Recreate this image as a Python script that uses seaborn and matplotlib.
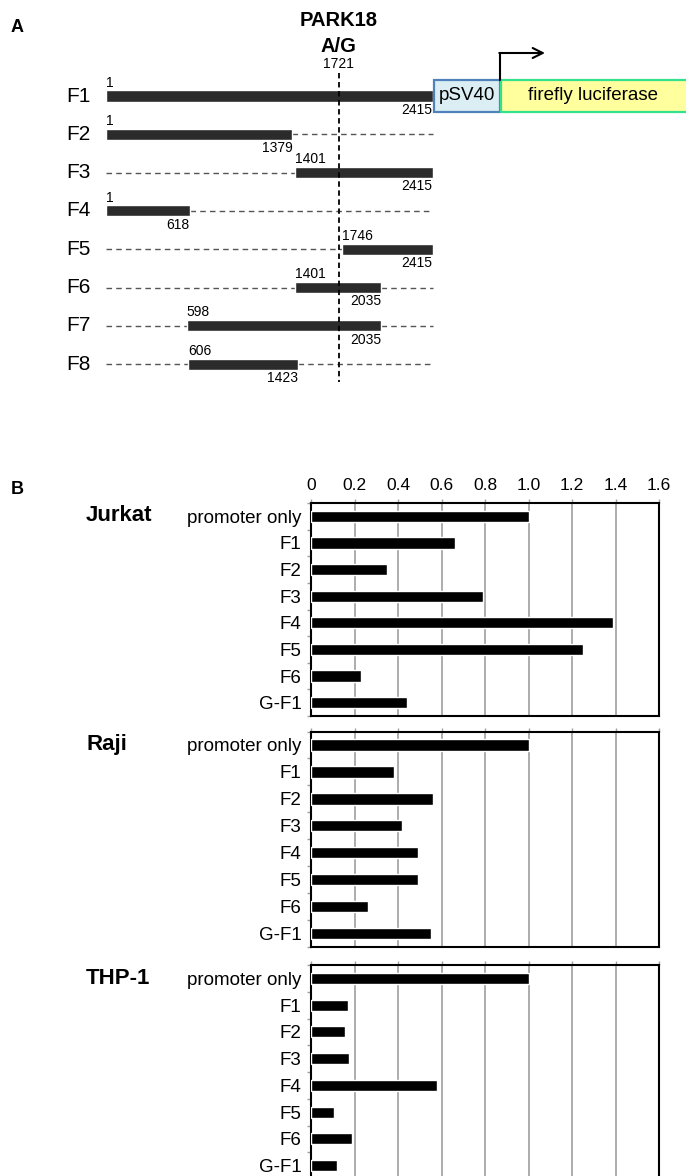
import matplotlib
matplotlib.use('Agg')
import matplotlib.pyplot as plt
import seaborn as sns
import pandas as pd
from matplotlib.patches import Rectangle
from matplotlib.ticker import FixedLocator

# ---------------- data ----------------
fragments = ['F1', 'F2', 'F3', 'F4', 'F5', 'F6', 'F7', 'F8']
frag_start = [1, 1, 1401, 1, 1746, 1401, 598, 606]
frag_end = [2415, 1379, 2415, 618, 2415, 2035, 2035, 1423]
snp_pos = 1721
full_len = 2415

constructs = ['promoter only', 'F1', 'F2', 'F3', 'F4', 'F5', 'F6', 'G-F1']
jurkat = [1.0, 0.66, 0.35, 0.79, 1.39, 1.25, 0.23, 0.44]
raji = [1.0, 0.38, 0.56, 0.42, 0.49, 0.49, 0.26, 0.55]
thp1 = [1.0, 0.17, 0.155, 0.175, 0.58, 0.105, 0.19, 0.12]
cell_lines = ['Jurkat', 'Raji', 'THP-1']
x_ticks = [0, 0.2, 0.4, 0.6, 0.8, 1.0, 1.2, 1.4, 1.6]
x_tick_labels = ['0', '0.2', '0.4', '0.6', '0.8', '1.0', '1.2', '1.4', '1.6']

sns.set_theme(style='white')
plt.rcParams['font.family'] = ['Liberation Sans', 'DejaVu Sans']
plt.rcParams['text.color'] = 'black'
plt.rcParams['xtick.labelcolor'] = 'black'
plt.rcParams['ytick.labelcolor'] = 'black'

W, H = 686, 1176
fig = plt.figure(figsize=(W / 100, H / 100), dpi=100)


def fx(px):
    return px / W


def fy(py):
    return 1 - py / H


# ---------------- Panel A ----------------
A_h = 440
axA = fig.add_axes([0, fy(A_h), 1, A_h / H])
ppu = (432.7 - 106) / (full_len - 1)


def dx(px):
    return 1 + (px - 106) / ppu


row_px0, row_sp = 96, 38.3


def dy(py):
    return (py - row_px0) / row_sp


axA.set_xlim(dx(0), dx(W))
axA.set_ylim(dy(A_h), dy(0))
axA.axis('off')

rows = list(range(len(fragments)))
bar_h = 0.29
widths = [e - s for s, e in zip(frag_start, frag_end)]
axA.barh(rows, widths, left=frag_start, height=bar_h, color='#2b2b2b', zorder=3)

for i, (name, s, e) in enumerate(zip(fragments, frag_start, frag_end)):
    if i > 0:
        if s > 1:
            axA.plot([1, s], [i, i], color='#555555', lw=1, ls=(0, (4, 3)), zorder=2)
        if e < full_len:
            axA.plot([e, full_len], [i, i], color='#555555', lw=1, ls=(0, (4, 3)), zorder=2)
    axA.text(s, i - bar_h / 2 - 0.02, str(s), ha='left', va='bottom', fontsize=10)
    axA.text(e, i + bar_h / 2 + 0.03, str(e), ha='right', va='top', fontsize=10)
    axA.text(dx(91), i, name, ha='right', va='center', fontsize=15)

axA.plot([snp_pos, snp_pos], [dy(73), dy(382)], color='black', lw=1.3, ls=(0, (3, 2)), zorder=4)
axA.text(snp_pos, dy(64), str(snp_pos), ha='center', va='center', fontsize=10)
axA.text(snp_pos, dy(21), 'PARK18', ha='center', va='center', fontsize=14.5, fontweight='bold')
axA.text(snp_pos, dy(46), 'A/G', ha='center', va='center', fontsize=14.5, fontweight='bold')

box_top, box_bot = dy(80), dy(112)
axA.add_patch(Rectangle((dx(433.5), box_top), dx(500) - dx(433.5), box_bot - box_top,
                        fc='#dbeef3', ec='#4f81bd', lw=1.6, zorder=5))
axA.add_patch(Rectangle((dx(500.5), box_top), dx(700) - dx(500.5), box_bot - box_top,
                        fc='#ffff9e', ec='#33e08c', lw=1.6, zorder=5))
axA.text((dx(433.5) + dx(500)) / 2, 0, 'pSV40', ha='center', va='center', fontsize=13.5, zorder=6)
axA.text((dx(500) + dx(686)) / 2, 0, 'firefly luciferase', ha='center', va='center', fontsize=13.5, zorder=6)
axA.plot([dx(500), dx(500)], [box_top, dy(53)], color='black', lw=1.5, zorder=6)
axA.annotate('', xy=(dx(545), dy(53)), xytext=(dx(499.3), dy(53)),
             arrowprops=dict(arrowstyle='->', lw=1.5, color='black', mutation_scale=18,
                             shrinkA=0, shrinkB=0))

fig.text(fx(11), fy(28), 'A', ha='left', va='center', fontsize=13, fontweight='bold')
fig.text(fx(11), fy(489), 'B', ha='left', va='center', fontsize=13, fontweight='bold')

# ---------------- Panel B ----------------
panels = [(jurkat, 503, 716), (raji, 731.5, 947), (thp1, 965, 1179)]
for k, (name, (vals, top, bot)) in enumerate(zip(cell_lines, panels)):
    ax = fig.add_axes([fx(311), fy(bot), fx(659) - fx(311), (bot - top) / H])
    df = pd.DataFrame({'construct': constructs, 'value': vals})
    sns.barplot(data=df, x='value', y='construct', ax=ax, color='black',
                width=0.42, saturation=1, orient='h', zorder=3)
    ax.set_xlim(0, 1.6)
    ax.set_ylim(len(constructs) - 0.5, -0.5)
    ax.set_xlabel('')
    ax.set_ylabel('')
    ax.set_xticks(x_ticks)
    ax.set_xticklabels(x_tick_labels)
    ax.grid(axis='x', color='#a6a6a6', lw=1.3, zorder=0)
    ax.grid(axis='y', visible=False)
    ax.set_axisbelow(True)
    ax.xaxis.set_ticks_position('top')
    ax.tick_params(axis='x', which='major', direction='out', length=3, width=1,
                   color='#a0a0a0', labelcolor='black', top=True, bottom=False,
                   labeltop=(k == 0), labelbottom=False, labelsize=12.5, pad=4)
    ax.yaxis.set_minor_locator(FixedLocator([i - 0.5 for i in range(len(constructs) + 1)]))
    ax.tick_params(axis='y', which='major', length=0, labelsize=13.5, pad=7,
                   left=True, labelcolor='black')
    ax.tick_params(axis='y', which='minor', length=3, width=1, color='#a0a0a0',
                   direction='out', left=True)
    for sp in ax.spines.values():
        sp.set_visible(True)
        sp.set_color('black')
        sp.set_linewidth(1.5)
    fig.text(fx(86), fy(top + 13), name, ha='left', va='center', fontsize=16,
             fontweight='bold')

fig.savefig('out.png', dpi=100)
